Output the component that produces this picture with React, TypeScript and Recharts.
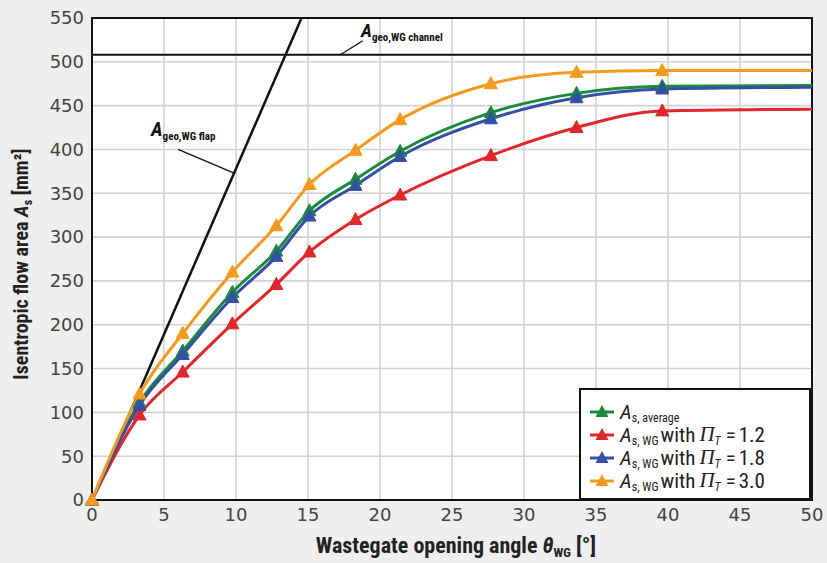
import React from "react";
import {
  LineChart,
  Line,
  XAxis,
  YAxis,
  CartesianGrid,
  ReferenceLine,
  ReferenceArea,
  Legend,
  Customized,
} from "recharts";

// Wastegate opening angle [deg]
const angles = [0, 3.3, 6.3, 9.75, 12.8, 15.1, 18.3, 21.4, 27.7, 33.65, 39.6, 50];
// Isentropic flow areas [mm²]
const asAverage = [0, 111, 170, 237, 284, 330, 366, 398, 442, 464, 472, 473];
const asPi12 = [0, 97, 146, 201, 246, 283, 320, 348, 393, 425, 444, 446];
const asPi18 = [0, 108, 166, 231, 278, 324, 359, 392, 435, 459, 469, 471];
const asPi30 = [0, 121, 190, 260, 313, 360, 399, 434, 475, 488, 490, 490];
const hasMarker = [true, true, true, true, true, true, true, true, true, true, true, false];

// Geometric areas
const flapAngles = [0, 14.55];
const flapArea = [0, 550];
const channelArea = 508;

const xTicks = [0, 5, 10, 15, 20, 25, 30, 35, 40, 45, 50];
const yTicks = [0, 50, 100, 150, 200, 250, 300, 350, 400, 450, 500, 550];

const COLORS = {
  avg: "#1a8a3c",
  p12: "#e2272b",
  p18: "#3350a6",
  p30: "#f49b1c",
};

const rows = angles.map((a, i) => ({
  angle: a,
  avg: asAverage[i],
  p12: asPi12[i],
  p18: asPi18[i],
  p30: asPi30[i],
  marker: hasMarker[i],
}));
const flapRows = flapAngles.map((a, i) => ({ angle: a, flap: flapArea[i] }));

const COND = "'Liberation Sans Narrow', 'Roboto Condensed', 'DejaVu Sans Condensed', Arial, sans-serif";

const makeDot = (color: string) => (props: any) => {
  const { cx, cy, payload, index } = props;
  if (!payload || !payload.marker || cx == null || cy == null) {
    return <g key={`n-${index}`} />;
  }
  return (
    <polygon
      key={`d-${index}`}
      points={`${cx},${cy - 7} ${cx - 6.5},${cy + 5} ${cx + 6.5},${cy + 5}`}
      fill={color}
      stroke={color}
      strokeWidth={1}
    />
  );
};

const legendItems = [
  { color: COLORS.avg, sub: "s, average", pi: null as string | null },
  { color: COLORS.p12, sub: "s, WG", pi: "1.2" },
  { color: COLORS.p18, sub: "s, WG", pi: "1.8" },
  { color: COLORS.p30, sub: "s, WG", pi: "3.0" },
];

const LegendBox = () => (
  <div
    style={{
      boxSizing: "border-box",
      width: 232,
      height: 112,
      border: "2px solid #111",
      background: "#fff",
      padding: "10px 0 0 9px",
      fontFamily: COND,
      color: "#222",
    }}
  >
    {legendItems.map((it, i) => (
      <div key={i} style={{ display: "flex", alignItems: "center", height: 23, whiteSpace: "nowrap" }}>
        <svg width={24} height={16} style={{ marginRight: 6 }}>
          <line x1={0} y1={8} x2={24} y2={8} stroke={it.color} strokeWidth={3} />
          <polygon points="12,1 5.5,13 18.5,13" fill={it.color} />
        </svg>
        <span style={{ fontSize: 21, fontStyle: "italic" }}>A</span>
        <span style={{ fontSize: 12, position: "relative", top: 6, marginRight: it.pi ? 2 : 0 }}>{it.sub}</span>
        {it.pi && (
          <>
            <span style={{ fontSize: 21, marginRight: 4 }}>with</span>
            <span style={{ fontSize: 21, fontStyle: "italic", fontFamily: "'Liberation Serif', serif" }}>Π</span>
            <span style={{ fontSize: 12, fontStyle: "italic", position: "relative", top: 6 }}>T</span>
            <span style={{ fontSize: 21, marginLeft: 5 }}>=</span>
            <span style={{ fontSize: 21, marginLeft: 3 }}>{it.pi}</span>
          </>
        )}
      </div>
    ))}
  </div>
);

const Annotations = () => (
  <g fontFamily={COND} fill="#111">
    {/* channel label */}
    <text x={361} y={37} fontWeight="bold">
      <tspan fontSize={19} fontStyle="italic">A</tspan>
      <tspan fontSize={11} dy={4}>geo,WG channel</tspan>
    </text>
    {/* flap label */}
    <text x={151} y={136} fontWeight="bold">
      <tspan fontSize={20} fontStyle="italic">A</tspan>
      <tspan fontSize={11} dy={4}>geo,WG flap</tspan>
    </text>
    {/* x axis title */}
    <text x={456} y={553} textAnchor="middle" fontWeight="bold" fontSize={22} fill="#222">
      <tspan>Wastegate opening angle </tspan>
      <tspan fontStyle="italic">θ</tspan>
      <tspan fontSize={13} dy={4}>WG</tspan>
      <tspan dy={-4}> [°]</tspan>
    </text>
    {/* y axis title */}
    <text
      transform="translate(28,264) rotate(-90)"
      textAnchor="middle"
      fontWeight="bold"
      fontSize={20}
      fill="#222"
    >
      <tspan>Isentropic flow area </tspan>
      <tspan fontStyle="italic">A</tspan>
      <tspan fontSize={12} dy={4}>s</tspan>
      <tspan dy={-4}> [mm²]</tspan>
    </text>
  </g>
);

export default function App() {
  return (
    <div
      style={{
        position: "absolute",
        left: 0,
        top: 0,
        width: 827,
        height: 563,
        background: "#efefef",
        overflow: "hidden",
      }}
    >
      <LineChart
        width={827}
        height={563}
        data={rows}
        margin={{ top: 18, right: 15, bottom: 0, left: 0 }}
      >
        <CartesianGrid stroke="#d2d2d2" strokeWidth={1.6} fill="#ffffff" fillOpacity={1} />
        <XAxis
          type="number"
          dataKey="angle"
          domain={[0, 50]}
          ticks={xTicks}
          interval={0}
          height={63}
          tickLine={false}
          tickSize={6}
          tickMargin={2}
          axisLine={{ stroke: "#111", strokeWidth: 2 }}
          tick={{ fill: "#444", fontSize: 18, fontFamily: "'DejaVu Sans', sans-serif" }}
        />
        <YAxis
          type="number"
          domain={[0, 550]}
          ticks={yTicks}
          interval={0}
          width={92}
          tickLine={false}
          tickSize={6}
          tickMargin={2}
          axisLine={{ stroke: "#111", strokeWidth: 2 }}
          tick={{ fill: "#444", fontSize: 18, fontFamily: "'DejaVu Sans', sans-serif" }}
        />
        <ReferenceArea x1={0} x2={50} y1={0} y2={550} fill="none" stroke="#111" strokeWidth={2} ifOverflow="visible" />
        <ReferenceLine y={channelArea} stroke="#111" strokeWidth={2} />
        <ReferenceLine
          segment={[{ x: 17.25, y: 508 }, { x: 18.8, y: 524 }]}
          stroke="#111"
          strokeWidth={1.3}
          ifOverflow="visible"
        />
        <ReferenceLine
          segment={[{ x: 5.98, y: 400 }, { x: 9.87, y: 373 }]}
          stroke="#111"
          strokeWidth={1.3}
          ifOverflow="visible"
        />
        <Line
          data={flapRows}
          dataKey="flap"
          type="linear"
          stroke="#111"
          strokeWidth={2.5}
          dot={false}
          activeDot={false}
          isAnimationActive={false}
          legendType="none"
        />
        <Line dataKey="avg" type="monotone" stroke={COLORS.avg} strokeWidth={3} dot={makeDot(COLORS.avg)} activeDot={false} isAnimationActive={false} />
        <Line dataKey="p12" type="monotone" stroke={COLORS.p12} strokeWidth={3} dot={makeDot(COLORS.p12)} activeDot={false} isAnimationActive={false} />
        <Line dataKey="p18" type="monotone" stroke={COLORS.p18} strokeWidth={3} dot={makeDot(COLORS.p18)} activeDot={false} isAnimationActive={false} />
        <Line dataKey="p30" type="monotone" stroke={COLORS.p30} strokeWidth={3} dot={makeDot(COLORS.p30)} activeDot={false} isAnimationActive={false} />
        <Legend
          layout="vertical"
          align="center"
          verticalAlign="middle"
          content={() => <LegendBox />}
          wrapperStyle={{ position: "absolute", left: 579, top: 388, width: 232, height: 112, margin: 0 }}
        />
        <Customized component={Annotations} />
      </LineChart>
    </div>
  );
}
